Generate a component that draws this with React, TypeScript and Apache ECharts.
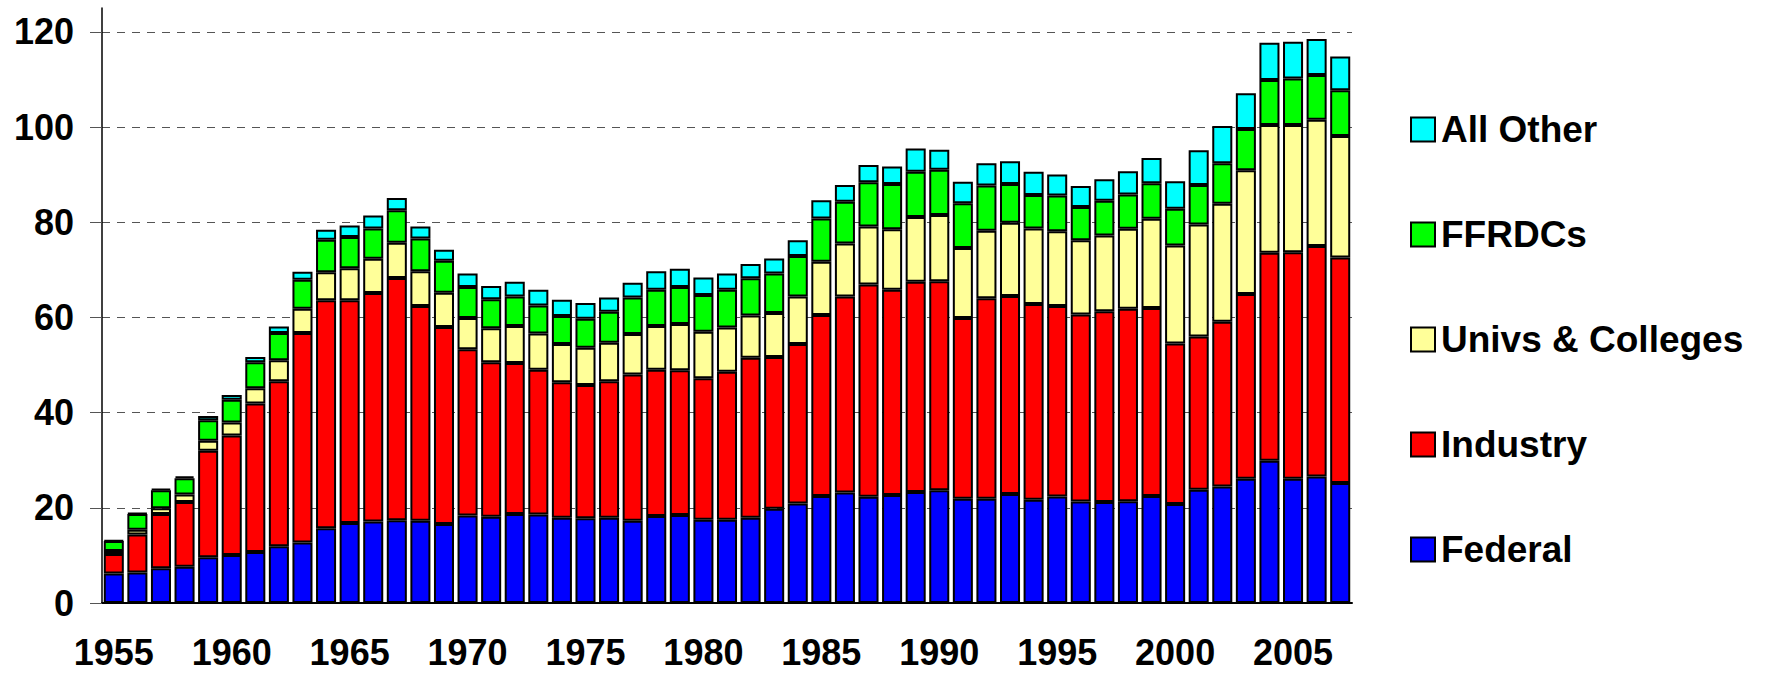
import React, { useEffect, useRef } from "react";
import * as echarts from "echarts";

const years: string[] = [];
for (let y = 1955; y <= 2007; y++) years.push(String(y));

const federal = [
  6.2, 6.4, 7.3, 7.6, 9.6, 10.1, 10.7, 11.9, 12.7, 15.7,
  16.8, 17.1, 17.4, 17.3, 16.6, 18.4, 18.1, 18.7, 18.6, 17.9,
  17.8, 17.9, 17.3, 18.3, 18.5, 17.5, 17.5, 17.9, 19.8, 20.9,
  22.5, 23.2, 22.3, 22.7, 23.3, 23.7, 21.9, 21.9, 22.9, 21.7,
  22.4, 21.3, 21.2, 21.4, 22.5, 20.8, 23.8, 24.5, 26.1, 29.9,
  26.1, 26.6, 25.2,
];
const industry = [
  4.1, 8.0, 11.4, 13.6, 22.4, 25.1, 31.2, 34.7, 44.0, 47.9,
  46.8, 48.0, 50.9, 45.1, 41.4, 34.9, 32.5, 31.7, 30.4, 28.5,
  28.0, 28.7, 30.7, 30.7, 30.4, 29.7, 31.1, 33.6, 31.9, 33.5,
  38.0, 41.2, 44.6, 43.1, 44.2, 43.9, 38.0, 42.1, 41.6, 41.1,
  40.0, 39.3, 40.1, 40.4, 39.5, 33.7, 32.2, 34.6, 38.8, 43.7,
  47.6, 48.4, 47.4,
];
const univs = [
  0.6, 1.0, 1.2, 1.6, 2.1, 2.7, 3.2, 4.4, 5.1, 5.9,
  6.7, 7.2, 7.4, 7.3, 7.2, 6.6, 7.1, 7.8, 7.6, 8.0,
  7.8, 8.1, 8.5, 9.2, 9.7, 9.8, 9.3, 8.9, 9.2, 10.0,
  11.2, 11.1, 12.2, 12.7, 13.6, 13.9, 14.7, 14.2, 15.4, 15.9,
  15.7, 15.6, 15.9, 16.8, 18.7, 20.6, 23.5, 24.8, 26.0, 26.8,
  26.7, 26.5, 25.5,
];
const ffrdcs = [
  2.1, 3.3, 3.8, 3.4, 4.3, 4.8, 5.5, 5.7, 6.1, 6.8,
  6.6, 6.4, 6.8, 6.9, 6.7, 6.5, 6.1, 6.2, 5.9, 5.9,
  6.1, 6.5, 7.7, 7.6, 7.8, 7.7, 7.9, 7.8, 8.3, 8.5,
  9.1, 8.8, 9.3, 9.5, 9.5, 9.5, 9.4, 9.5, 8.1, 7.0,
  7.5, 7.0, 7.3, 7.2, 7.5, 7.7, 8.3, 8.5, 8.7, 9.5,
  9.8, 9.4, 9.6,
];
const allOther = [
  0.2, 0.2, 0.3, 0.4, 0.9, 1.0, 1.1, 1.4, 1.7, 2.1,
  2.4, 2.7, 2.6, 2.5, 2.3, 2.8, 2.8, 3.1, 3.3, 3.4,
  3.3, 3.0, 3.1, 3.9, 3.8, 3.7, 3.4, 3.0, 3.2, 3.3,
  3.8, 3.5, 3.6, 3.7, 4.9, 4.2, 4.5, 4.7, 4.8, 4.9,
  4.4, 4.4, 4.5, 4.9, 5.3, 5.8, 7.3, 7.8, 7.5, 7.8,
  7.7, 7.6, 7.1,
];
const yTicks = [0, 20, 40, 60, 80, 100, 120];

const seriesDefs = [
  { name: "Federal", data: federal, color: "#0000FF" },
  { name: "Industry", data: industry, color: "#FF0000" },
  { name: "Univs & Colleges", data: univs, color: "#FFFF99" },
  { name: "FFRDCs", data: ffrdcs, color: "#00FF00" },
  { name: "All Other", data: allOther, color: "#00FFFF" },
];

const FONT = "'Liberation Sans', Arial, sans-serif";

export default function App() {
  const ref = useRef<HTMLDivElement>(null);
  useEffect(() => {
    if (!ref.current) return;
    const chart = echarts.init(ref.current, null, { renderer: "svg" });
    chart.setOption({
      animation: false,
      backgroundColor: "#ffffff",
      grid: { left: 102, right: 416, top: 8, bottom: 74, containLabel: false },
      legend: {
        orient: "vertical",
        left: 1405,
        top: 106,
        icon: "rect",
        itemWidth: 24,
        itemHeight: 24,
        itemGap: 68,
        selectedMode: false,
        data: ["All Other", "FFRDCs", "Univs & Colleges", "Industry", "Federal"],
        textStyle: { fontFamily: FONT, fontSize: 37, fontWeight: "bold", color: "#000", padding: [0, 0, 0, 1] },
        itemStyle: { borderColor: "#000", borderWidth: 2 },
      },
      xAxis: {
        type: "category",
        data: years,
        axisLine: { lineStyle: { color: "#000", width: 2 } },
        axisTick: { interval: 0, length: 11, lineStyle: { color: "#555", width: 1.5 } },
        axisLabel: {
          interval: 4,
          margin: 31,
          fontFamily: FONT,
          fontSize: 36,
          fontWeight: "bold",
          color: "#000",
        },
      },
      yAxis: {
        type: "value",
        min: 0,
        max: 125,
        interval: 20,
        axisLine: { show: true, lineStyle: { color: "#000", width: 1.5 } },
        axisTick: { show: true, length: 12, customValues: yTicks, lineStyle: { color: "#555" } },
        axisLabel: {
          customValues: yTicks,
          margin: 28,
          fontFamily: FONT,
          fontSize: 36,
          fontWeight: "bold",
          color: "#000",
        },
        splitLine: {
          show: true,
          showMaxLine: true,
          lineStyle: { color: "#555", type: [8, 7], width: 1 },
        },
      },
      series: seriesDefs.map((s) => ({
        name: s.name,
        type: "bar",
        stack: "total",
        data: s.data,
        barCategoryGap: "15%",
        itemStyle: { color: s.color, borderColor: "#000", borderWidth: 2 },
      })),
    });
    return () => chart.dispose();
  }, []);
  return (
    <div
      ref={ref}
      style={{ position: "fixed", left: 0, top: 0, width: 1768, height: 677, background: "#fff" }}
    />
  );
}
